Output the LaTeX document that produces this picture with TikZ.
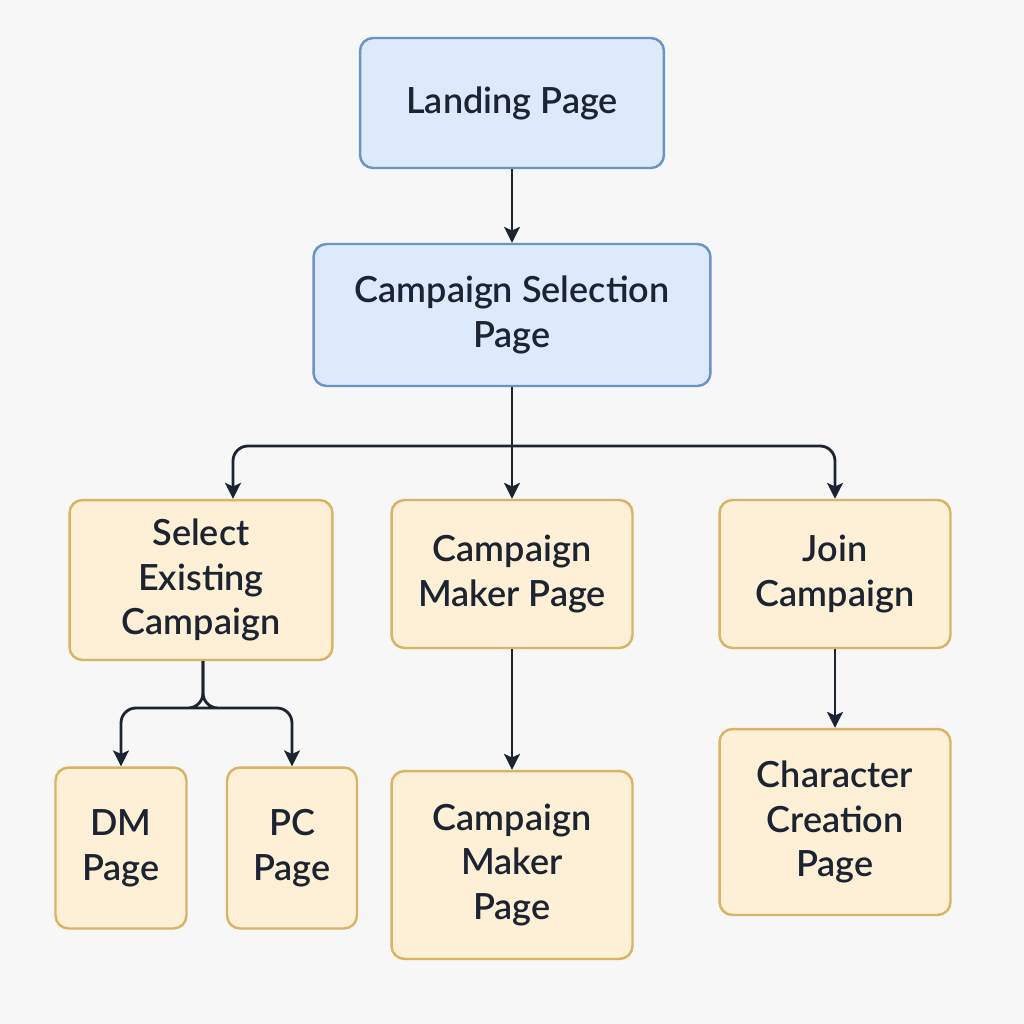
\documentclass[tikz,border=0pt]{standalone}
\usepackage{fontspec}
\setmainfont{Lato}[UprightFont=* Semibold]
\usepackage{xcolor}
\usetikzlibrary{positioning,arrows.meta}

\definecolor{bgcol}{HTML}{F7F7F7}
\definecolor{bluefill}{HTML}{DCEAFB}
\definecolor{blueline}{HTML}{6B93C6}
\definecolor{yelfill}{HTML}{FDF0D6}
\definecolor{yelline}{HTML}{D9B467}
\definecolor{ink}{HTML}{1C2431}

\tikzset{
  pagebox/.style={draw, rounded corners=0.26cm, line width=1.4pt, align=center,
    text=ink, font=\fontsize{20.5}{25.5}\selectfont, inner sep=0pt},
  bluepage/.style={pagebox, fill=bluefill, draw=blueline},
  yelpage/.style={pagebox, fill=yelfill, draw=yelline},
  conn/.style={draw=ink, line width=1.6pt, -{Stealth[length=9pt,width=9pt,inset=2pt]}}
}

\begin{document}
\begin{tikzpicture}[x=0.02cm, y=-0.02cm]
\fill[bgcol] (0,0) rectangle (1024,1024);
\useasboundingbox (0,0) rectangle (1024,1024);

\node[bluepage, minimum width=6.08cm, minimum height=2.6cm] (landing) at (512,103) {Landing Page};
\node[bluepage, minimum width=7.94cm, minimum height=2.84cm] (campsel) at (512,315) {Campaign Selection\\Page};

\node[yelpage, minimum width=5.26cm, minimum height=3.2cm] (select) at (201,580) {Select\\Existing\\Campaign};
\node[yelpage, minimum width=4.82cm, minimum height=2.96cm] (maker) at (512,574) {Campaign\\Maker Page};
\node[yelpage, minimum width=4.62cm, minimum height=2.96cm] (join) at (835,574) {Join\\Campaign};

\node[yelpage, minimum width=2.62cm, minimum height=3.22cm] (dm) at (121,848) {DM\\Page};
\node[yelpage, minimum width=2.6cm, minimum height=3.22cm] (pc) at (292,848) {PC\\Page};
\node[yelpage, minimum width=4.82cm, minimum height=3.76cm] (maker2) at (512,865) {Campaign\\Maker\\Page};
\node[yelpage, minimum width=4.62cm, minimum height=3.72cm] (charpage) at (835,822) {Character\\Creation\\Page};

\coordinate (split) at (512,446);
\coordinate (fork) at (203,708);

\draw[conn] (landing) -- (campsel);
\draw[conn] (campsel) -- (maker);
\draw[conn, rounded corners=0.3cm] (split) -| ([xshift=0.64cm]select.north);
\draw[conn, rounded corners=0.3cm] (split) -| (join);

\draw[conn, rounded corners=0.3cm] (select.south -| fork) |- ([xshift=-0.3cm]fork) -| (dm);
\draw[conn, rounded corners=0.3cm] (select.south -| fork) |- ([xshift=0.3cm]fork) -| (pc);

\draw[conn] (maker) -- (maker2);
\draw[conn] (join) -- (charpage);
\end{tikzpicture}
\end{document}
